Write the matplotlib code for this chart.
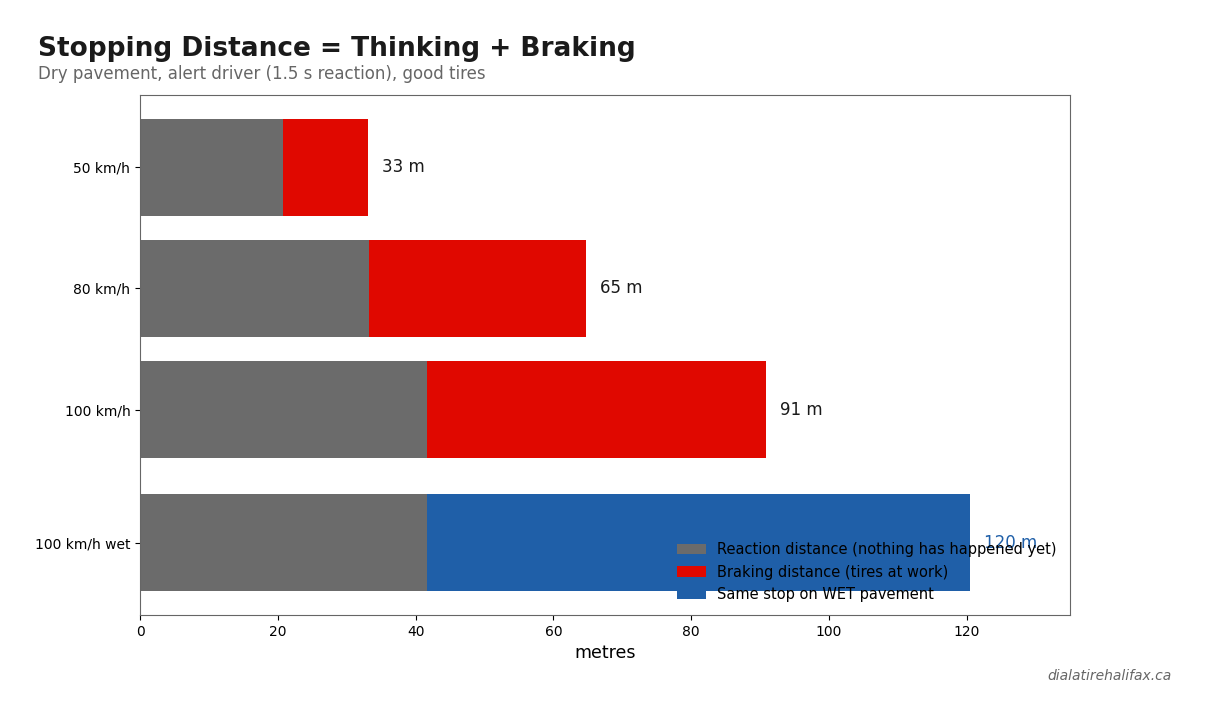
import numpy as np
import matplotlib
matplotlib.use("Agg")
import matplotlib.pyplot as plt

# Data
speeds = ["50 km/h", "80 km/h", "100 km/h", "100 km/h wet"]
reaction = [20.8, 33.3, 41.7, 41.7]
braking = [12.3, 31.5, 49.2, 0.0]
wet_braking = [0.0, 0.0, 0.0, 78.8]
total_labels = ["33 m", "65 m", "91 m", "120 m"]
ypos = [0, 1, 2, 3.1]

GRAY = "#6b6b6b"
RED = "#e00800"
BLUE = "#1f5fa8"

fig = plt.figure(figsize=(12.07, 7.17), dpi=100)
ax = fig.add_axes([0.116, 0.1423, 0.7705, 0.7252])

ax.barh(ypos, reaction, height=0.8, color=GRAY,
        label="Reaction distance (nothing has happened yet)")
ax.barh(ypos[:3], braking[:3], left=reaction[:3], height=0.8, color=RED,
        label="Braking distance (tires at work)")
ax.barh(ypos[3:], wet_braking[3:], left=reaction[3:], height=0.8, color=BLUE,
        label="Same stop on WET pavement")

for i, y in enumerate(ypos):
    total = reaction[i] + braking[i] + wet_braking[i]
    col = BLUE if i == 3 else "#1a1a1a"
    ax.text(total + 2, y, total_labels[i], va="center", ha="left",
            fontsize=12, color=col)

ax.set_yticks(ypos)
ax.set_yticklabels(speeds)
ax.invert_yaxis()
ax.set_xlim(0, 135)
ax.set_xlabel("metres", fontsize=12.5)
ax.tick_params(axis="both", labelsize=10)
for s in ax.spines.values():
    s.set_color("#666666")

ax.legend(loc="lower right", frameon=False, fontsize=10.5,
          borderaxespad=0.5, labelspacing=0.5)

fig.text(0.0315, 0.922, "Stopping Distance = Thinking + Braking",
         fontsize=19, fontweight="bold", color="#1a1a1a", va="baseline")
fig.text(0.0315, 0.89, "Dry pavement, alert driver (1.5 s reaction), good tires",
         fontsize=12, color="#666666", va="baseline")
fig.text(0.971, 0.052, "dialatirehalifax.ca", fontsize=10, style="italic",
         color="#666666", ha="right", va="baseline")

fig.savefig("out.png", dpi=100)
